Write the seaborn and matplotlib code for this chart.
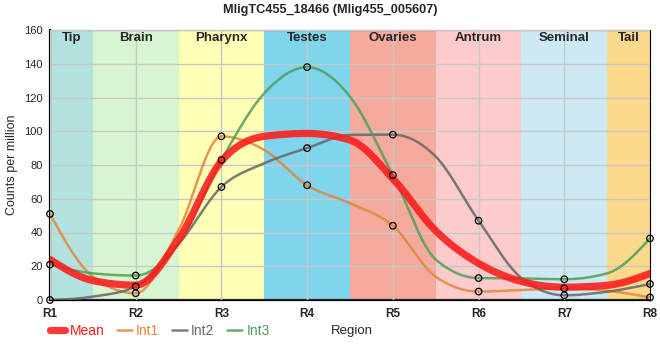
import numpy as np
import pandas as pd
import matplotlib.pyplot as plt
import seaborn as sns
from matplotlib.lines import Line2D

# valores: en cada region (marcadores)...
regions = ["R1", "R2", "R3", "R4", "R5", "R6", "R7", "R8"]
mean = [24, 8.8, 82.3, 98.7, 72, 21.7, 7.6, 15.7]
int1 = [51, 4, 97, 68, 44, 5, 6.9, 1.5]
int2 = [0, 8, 67, 90, 98, 47, 2.8, 9.5]
int3 = [21, 14.5, 83, 138, 74, 13, 12.3, 36.5]

# ...y en los limites entre bandas (R1.5, R2.5, ... R7.5), sin marcador
mean_mid = [11.5, 36, 97, 94.8, 41, 11, 8.7]
int1_mid = [13.8, 41.5, 88.9, 57.3, 13.8, 5.9, 5.5]
int2_mid = [2, 33, 81, 97.8, 85, 13, 4.9]
int3_mid = [15.8, 33.6, 122.5, 120.5, 24, 12.8, 15.8]

bands = ["Tip", "Brain", "Pharynx", "Testes", "Ovaries", "Antrum", "Seminal", "Tail"]
band_colors = ["#b3e3de", "#d7f5d1", "#ffffb5", "#7ed5ec", "#f4aa9c", "#fdcbcc", "#cdeaf4", "#fdd98b"]


def monotone(x, y, n=30):
    # curva suave monotona (tipo d3 monotoneX)
    x = np.asarray(x, float)
    y = np.asarray(y, float)
    h = np.diff(x)
    s = np.diff(y) / h
    t = np.zeros(len(y))
    for k in range(1, len(y) - 1):
        s0, s1 = s[k - 1], s[k]
        p = (s0 * h[k] + s1 * h[k - 1]) / (h[k - 1] + h[k])
        t[k] = (np.sign(s0) + np.sign(s1)) * min(abs(s0), abs(s1), 0.5 * abs(p))
    t[0] = (3 * s[0] - t[1]) / 2
    t[-1] = (3 * s[-1] - t[-2]) / 2
    xs, ys = [], []
    for k in range(len(y) - 1):
        u = np.linspace(0, 1, n, endpoint=False)
        h00 = 2 * u**3 - 3 * u**2 + 1
        h10 = u**3 - 2 * u**2 + u
        h01 = -2 * u**3 + 3 * u**2
        h11 = u**3 - u**2
        xs.append(x[k] + u * h[k])
        ys.append(h00 * y[k] + h10 * h[k] * t[k] + h01 * y[k + 1] + h11 * h[k] * t[k + 1])
    xs.append([x[-1]])
    ys.append([y[-1]])
    return np.concatenate(xs), np.concatenate(ys)


def merge(vals, mids):
    xs, ys = [], []
    for i, v in enumerate(vals):
        xs.append(i)
        ys.append(v)
        if i < len(mids):
            xs.append(i + 0.5)
            ys.append(mids[i])
    return xs, ys


sns.set_style("white")
plt.rcParams['font.family'] = ['Liberation Sans', 'DejaVu Sans']

fig = plt.figure(figsize=(6.6, 3.6), dpi=100)
ax = fig.add_axes([50 / 660, 60 / 360, 600 / 660, 270 / 360])

# bandas de fondo
for i, (name, c) in enumerate(zip(bands, band_colors)):
    lo = max(i - 0.5, 0)
    hi = min(i + 0.5, len(regions) - 1)
    ax.axvspan(lo, hi, color=c, lw=0, zorder=0)
    ax.text((lo + hi) / 2, 155, name, ha="center", va="center",
            fontsize=9.5, fontweight="bold", zorder=5)

ax.set_xlim(0, len(regions) - 1)
ax.set_ylim(0, 160)
ax.set_yticks(range(0, 161, 20))
ax.set_xticks(range(len(regions)))
ax.set_xticklabels(regions, fontweight="bold", fontsize=8.5)
ax.tick_params(axis="y", labelsize=8, length=3, pad=2)
ax.tick_params(axis="x", length=3, pad=3)
ax.grid(True, color="#c8c8c8", lw=1, zorder=1)
ax.set_axisbelow(False)

series = [("Mean", mean, mean_mid, "#ff1a1a", 5.2, 0.88),
          ("Int1", int1, int1_mid, "#e0883a", 1.8, 0.85),
          ("Int2", int2, int2_mid, "#666666", 1.8, 0.85),
          ("Int3", int3, int3_mid, "#4f9e5a", 1.8, 0.85)]

for name, vals, mids, col, lw, a in series:
    kx, ky = merge(vals, mids)
    xs, ys = monotone(kx, ky)
    df = pd.DataFrame({"x": xs, "y": ys})
    sns.lineplot(data=df, x="x", y="y", ax=ax, color=col, lw=lw, alpha=a,
                 zorder=3 if name != "Mean" else 4, estimator=None, sort=False)

for name, vals, mids, col, lw, a in series[1:]:
    sns.scatterplot(x=np.arange(len(regions)), y=vals, ax=ax, s=22,
                    facecolor="none", edgecolor="black", linewidth=0.9,
                    zorder=6, clip_on=False)

ax.set_xlabel("")
ax.set_ylabel("Counts per million", fontsize=9)
ax.yaxis.set_label_coords(-0.053, 0.5)

for side in ["left", "bottom"]:
    ax.spines[side].set_linewidth(1.6)
    ax.spines[side].set_color("black")
for side in ["top", "right"]:
    ax.spines[side].set_linewidth(0.8)
    ax.spines[side].set_color("black")
    ax.spines[side].set_visible(True)

fig.text(0.5, 1 - 10 / 360, "MligTC455_18466 (Mlig455_005607)", fontsize=9.2,
         fontweight="bold", ha="center", va="center")

handles = [Line2D([0], [0], color=s[3], lw=s[4], alpha=s[5]) for s in series]
leg = fig.legend(handles, [s[0] for s in series], loc="center left",
                 bbox_to_anchor=(50 / 660, 29 / 360), ncol=4, frameon=False,
                 fontsize=10, handlelength=1.1, handletextpad=0.3,
                 columnspacing=0.9, borderpad=0, borderaxespad=0)
for txt, s in zip(leg.get_texts(), series):
    txt.set_color(s[3])

fig.text(331 / 660, 29 / 360, "Region", fontsize=9.5, ha="left", va="center")

fig.savefig("out.png", dpi=100)
